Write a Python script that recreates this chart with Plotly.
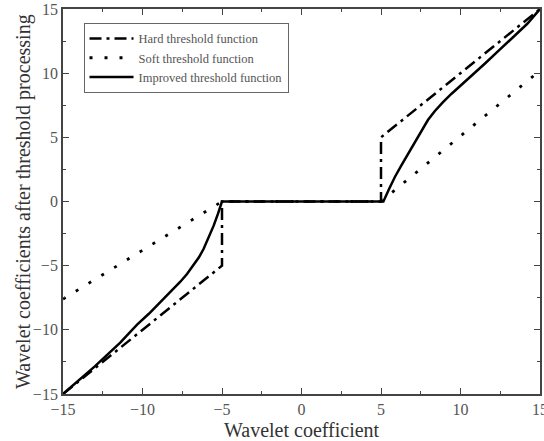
import plotly.graph_objects as go

# Data
hard_x = [-15, -5, -5, 5, 5, 15]
hard_y = [-15, -5, 0, 0, 5, 15]

soft_x = [-15, -5, 5, 15]
soft_y = [-7.6, 0, 0, 10.2]

improved_x = [-15, -13.0, -11.4, -10.34, -9.6, -8.88, -8.2, -7.62, -7.2, -6.78, -6.45,
              -6.16, -5.85, -5.53, -5.25, -5,
              5, 5.15, 5.5, 5.88, 6.3, 6.72, 7.15, 7.55, 7.95, 8.39, 8.9, 9.44,
              10.49, 11.54, 12.4, 13.3, 14.2, 15]
improved_y = [-15, -12.85, -11.0, -9.6, -8.75, -7.85, -7.0, -6.25, -5.65, -4.95, -4.35,
              -3.7, -2.85, -1.9, -0.95, 0,
              0, 0, 0.95, 1.93, 2.85, 3.75, 4.7, 5.55, 6.35, 7.05, 7.75, 8.4,
              9.55, 10.75, 11.75, 12.8, 13.85, 15]

tick_vals = [-15, -10, -5, 0, 5, 10, 15]
x_title = "Wavelet coefficient"
y_title = "Wavelet coefficients after threshold processing"

fig = go.Figure()
fig.add_trace(go.Scatter(x=hard_x, y=hard_y, mode="lines", name="Hard threshold function",
                         line=dict(color="black", width=2.5, dash="12px,5px,3px,5px")))
fig.add_trace(go.Scatter(x=soft_x, y=soft_y, mode="lines", name="Soft threshold function",
                         line=dict(color="black", width=2.8, dash="3px,12px")))
fig.add_trace(go.Scatter(x=improved_x, y=improved_y, mode="lines", name="Improved threshold function",
                         line=dict(color="black", width=2.5)))

axis_common = dict(
    range=[-15, 15], tickvals=tick_vals, ticks="inside", ticklen=6, tickwidth=1.2,
    tickcolor="#444", showline=True, linecolor="#444", linewidth=1.8, mirror="allticks",
    showgrid=False, zeroline=False, automargin=False, ticklabeloverflow="allow",
    tickfont=dict(family="Liberation Serif", size=16, color="#555"),
    minor=dict(dtick=2.5, tick0=0, ticks="inside", ticklen=3, tickwidth=1, tickcolor="#444"),
)

fig.update_xaxes(**axis_common)
fig.update_yaxes(**axis_common)

title_font = dict(family="Liberation Serif", size=20, color="#333")
fig.add_annotation(text=x_title, xref="paper", yref="paper", x=0.5, y=-0.094,
                   xanchor="center", yanchor="middle", showarrow=False, font=title_font)
fig.add_annotation(text=y_title, xref="paper", yref="paper", x=-0.083, y=0.5,
                   xanchor="center", yanchor="middle", textangle=-90, showarrow=False,
                   font=title_font)

fig.update_layout(
    width=544, height=441,
    margin=dict(l=62.5, r=4, t=9, b=47),
    plot_bgcolor="white", paper_bgcolor="white",
    font=dict(family="Liberation Serif", color="#333"),
    legend=dict(x=0.043, y=0.964, xanchor="left", yanchor="top",
                bordercolor="#666", borderwidth=1, bgcolor="white",
                font=dict(family="Liberation Serif", size=12.5, color="#555"),
                tracegroupgap=0, itemwidth=44),
    showlegend=True,
)

fig.write_html("out.html", config={"displayModeBar": False},
               post_script="document.body.style.margin='0';")
